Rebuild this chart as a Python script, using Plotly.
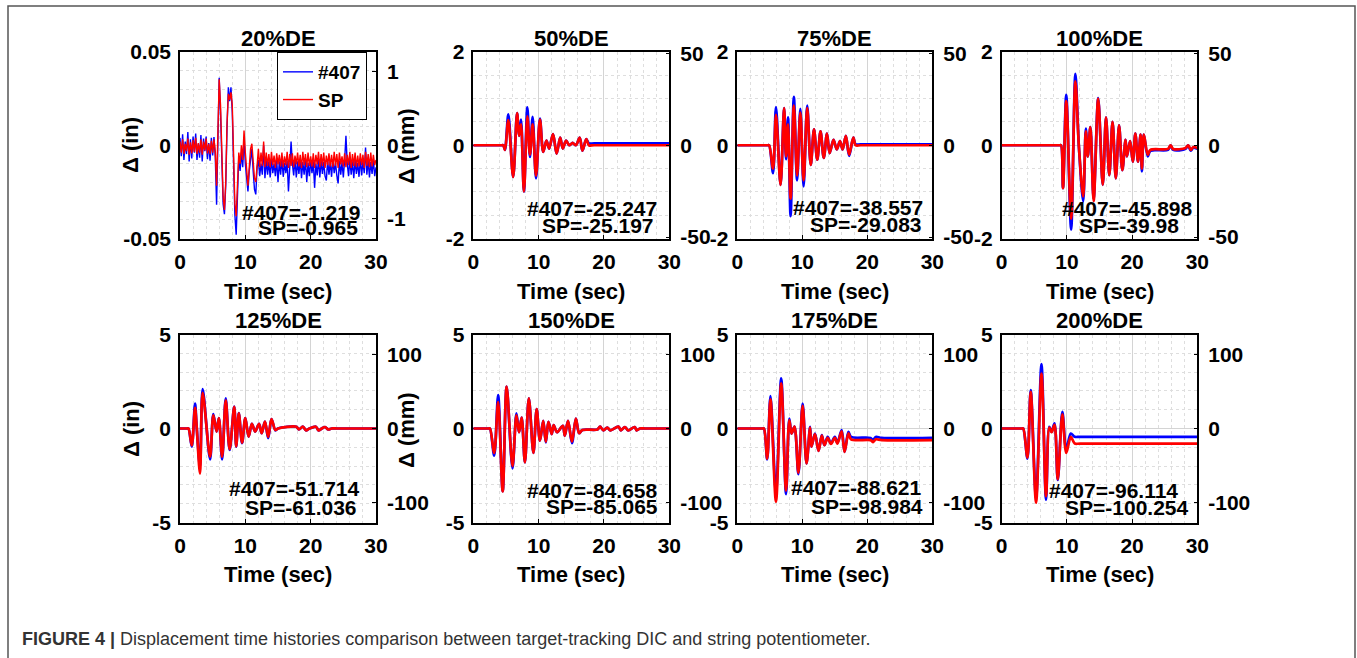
import numpy as np
import plotly.graph_objects as go

MM_PER_IN = 25.4

# ---------------------------------------------------------------- data (mm)
# 20%DE: recorded every 0.2 s
T20 = np.round(np.arange(0, 30.0001, 0.2), 1)
B20 = [0.10, -0.15, 0.15, -0.20, 0.05, -0.12, 0.18, -0.22, 0.08, -0.18,
       0.12, -0.10, 0.16, -0.20, 0.02, -0.17, 0.14, -0.22, 0.09, -0.08,
       0.12, -0.19, 0.03, -0.21, 0.10, -0.14, 0.11, -0.16,
       -0.81, 0.05, 0.92, 0.45, -0.30, -0.80, -0.94, -0.55, 0.25, 0.79,
       0.60, 0.79, 0.45, -0.35, -0.95, -1.219, -0.60, -0.15, -0.35, -0.10,
       -0.30, 0.10, -0.25, -0.50, -0.63, -0.35, -0.15, -0.05, -0.35, -0.60,
       -0.67, -0.30, -0.20, -0.42, -0.25, -0.40, 0.00, -0.45,
       -0.20, -0.40, -0.22, -0.44, -0.18, -0.38, -0.25, -0.42, -0.20, -0.50,
       -0.22, -0.40, -0.19, -0.43, -0.24, -0.38, -0.21, -0.63, -0.30, 0.05,
       -0.25, -0.41, -0.18, -0.44, -0.22, -0.39, -0.20, -0.45, -0.23, -0.40,
       -0.19, -0.50, -0.24, -0.42, -0.20, -0.38, -0.22, -0.58, -0.25, -0.41,
       -0.18, -0.44, -0.21, -0.39, -0.23, -0.42, -0.48, -0.20, -0.40, -0.22,
       -0.43, -0.19, -0.38, -0.24, -0.41, -0.52, -0.21, -0.40, -0.23, -0.44,
       -0.20, 0.13, -0.25, -0.42, -0.19, -0.40, -0.22, -0.45, -0.20, -0.39,
       -0.24, -0.43, -0.18, -0.41, -0.22, -0.38, -0.03, -0.40, -0.21, -0.44,
       -0.23, -0.39, -0.20, -0.42, -0.30]
S20 = [0.05, -0.10, 0.08, -0.12, 0.02, -0.08, 0.09, -0.13, 0.04, -0.11,
       0.07, -0.09, 0.10, -0.12, 0.03, -0.10, 0.08, -0.13, 0.05, -0.07,
       0.09, -0.11, 0.02, -0.12, 0.06, -0.10, 0.08, -0.09,
       -0.55, 0.10, 0.90, 0.55, -0.20, -0.70, -0.88, -0.50, 0.30, 0.70,
       0.62, 0.72, 0.55, -0.20, -0.80, -0.965, -0.50, -0.10, -0.25, 0.00,
       -0.20, 0.20, -0.10, -0.40, -0.55, -0.30, -0.05, 0.02, -0.25, -0.45,
       -0.50, -0.20, -0.05, -0.30, -0.10, -0.28, 0.05, -0.30,
       -0.10, -0.28, -0.12, -0.30, -0.09, -0.27, -0.14, -0.31, -0.11, -0.26,
       -0.13, -0.29, -0.10, -0.30, -0.15, -0.27, -0.09, -0.31, -0.12, -0.28,
       -0.11, -0.30, -0.14, -0.26, -0.10, -0.29, -0.13, -0.31, -0.09, -0.27,
       -0.12, -0.30, -0.10, -0.28, -0.15, -0.29, -0.11, -0.31, -0.13, -0.26,
       -0.09, -0.30, -0.12, -0.28, -0.10, -0.31, -0.14, -0.27, -0.11, -0.29,
       -0.13, -0.30, -0.09, -0.28, -0.12, -0.31, -0.10, -0.26, -0.15, -0.29,
       -0.11, -0.30, -0.13, -0.27, -0.09, -0.31, -0.12, -0.28, -0.10, -0.30,
       -0.14, -0.29, -0.11, -0.27, -0.13, -0.31, -0.09, -0.28, -0.12, -0.30,
       -0.10, -0.29, -0.13, -0.27, -0.20]

# 50%DE: turning points
T50 = [0, 4.4, 4.6, 4.85, 5.36, 6.1, 6.7, 7.0, 7.3, 7.75, 8.27, 8.67, 9.08, 9.6,
       10.2, 10.7, 11.2, 11.6, 12.2, 12.75, 13.3, 13.7, 14.2, 14.7, 15.2, 15.7,
       16.3, 16.7, 17.3, 17.7, 18.5, 30]
B50 = [0, 0, 0, -2.5, 16.8, -17.3, 17.5, 5.1, 14.0, -25.247, 20.6, -6.4, 15.5,
       -18.0, 14.5, -3.6, 2.5, -1.8, 6.1, -4.6, 4.1, -1.8, 2.5, 0, 1.3, 0, 4.1,
       -3.0, 3.3, 1.0, 1.0, 1.0]
S50 = [0, 0, 0, -2.5, 13.7, -17.3, 17.5, 5.1, 11.4, -25.197, 15.7, -5.1, 11.4,
       -16.5, 14.0, -3.6, 2.5, -1.8, 6.1, -4.6, 4.1, -1.8, 2.5, 0, 1.3, 0, 4.1,
       -3.0, 3.3, 0, 0, 0]

# 75%DE
T75 = [0, 4.7, 4.9, 5.5, 5.95, 6.65, 7.2, 7.5, 7.8, 8.2, 8.7, 9.2, 9.7, 10.2,
       10.75, 11.3, 11.8, 12.3, 12.8, 13.3, 13.8, 14.2, 14.8, 15.3, 15.8, 16.2,
       16.7, 17.2, 17.85, 18.2, 19.0, 30]
B75 = [0, 0, 0, -15.2, 20.8, -21.6, 20.3, -7.6, 15.2, -38.557, 26.4, -19.1, 19.8,
       -22.4, 21.6, -10.7, 8.6, -7.9, 7.6, -6.9, 6.4, -4.3, 3.0, -2.3, 2.3, -2.3,
       5.1, -5.8, 4.1, 0.5, 0.5, 0.5]
S75 = [0, 0, 0, -12.7, 16.5, -21.6, 20.3, -6.1, 11.4, -29.083, 21.6, -16.5, 17.8,
       -19.1, 20.3, -10.7, 8.6, -7.9, 7.6, -6.9, 6.4, -4.3, 3.0, -2.3, 2.3, -2.3,
       5.1, -5.1, 4.1, 0, 0, 0]

# 100%DE
T100 = [0, 8.9, 9.1, 9.4, 9.9, 10.65, 11.3, 11.85, 12.5, 12.9, 13.2, 13.6, 14.1,
        14.8, 15.5, 16.0, 16.5, 17.0, 17.5, 18.0, 18.5, 19.0, 19.2, 19.7, 20.1,
        20.5, 20.9, 21.3, 21.5, 21.8, 22.4, 22.8, 25.5, 25.9, 26.3, 28.2, 28.6,
        29.0, 29.4, 30]
B100 = [0, 0, 0, -23.4, 27.4, -45.898, 38.9, -1.3, -30.5, 9.1, -6.1, 9.9, -29.2,
        25.7, -21.6, 15.2, -16.3, 12.7, -18.0, 10.9, -13.5, 3.0, -6.1, 2.3, -8.9,
        6.4, -8.9, 5.8, -14.2, 5.8, -6.1, -3.0, -2.5, 0, -2.5, -2.0, 0, -3.0,
        -1.3, -2.0]
S100 = [0, 0, 0, -23.4, 24.1, -39.98, 34.8, -1.3, -27.9, 7.6, -6.1, 9.9, -30.5,
        25.4, -21.6, 15.2, -16.3, 12.7, -18.0, 10.9, -13.5, 3.0, -6.1, 2.3, -8.9,
        6.4, -8.9, 5.8, -12.7, 5.8, -5.1, -2.5, -2.0, 0, -2.0, -1.5, 0, -2.5,
        -1.0, -1.5]

# 125%DE
T125 = [0, 1.1, 1.3, 1.8, 2.3, 2.55, 3.06, 3.47, 4.6, 5.1, 5.6, 5.95, 6.45, 7.0,
        7.6, 8.3, 8.6, 9.0, 9.5, 10.0, 10.5, 11.0, 11.5, 12.1, 12.5, 13.0, 13.5,
        14.0, 14.6, 15.0, 17.8, 18.2, 18.8, 19.3, 19.8, 20.8, 21.2, 21.7, 22.2,
        22.7, 23.2, 24.0, 30]
B125 = [0, 0, 0, -24.4, 33.5, 2.5, -51.714, 53.3, -41.7, 19.6, -4.1, 14.0, -41.7,
        40.6, -29.0, 29.7, -24.4, 20.8, -19.8, 14.0, -10.9, 6.4, -4.1, 6.4, -6.4,
        9.4, -13.2, 12.7, -2.5, 0, 2.5, -1.3, 2.5, -2.5, 0, 2.5, -2.5, 0, 2.0,
        -1.3, 0, 0, 0]
S125 = [0, 0, 0, -22.9, 27.9, 2.5, -61.036, 48.3, -38.1, 17.8, -4.1, 14.0, -38.1,
        38.1, -27.9, 29.2, -24.1, 20.3, -19.1, 14.0, -10.9, 6.4, -4.1, 6.4, -6.4,
        9.4, -11.4, 12.7, -2.0, 0, 2.5, -1.3, 2.5, -2.5, 0, 2.5, -2.5, 0, 2.0,
        -1.3, 0, 0, 0]

# 150%DE
T150 = [0, 2.35, 2.55, 3.2, 3.8, 4.5, 5.1, 6.0, 6.6, 7.0, 7.4, 7.9, 8.5, 9.2, 9.7,
        10.2, 10.7, 11.1, 11.5, 12.0, 12.3, 12.8, 13.7, 14.0, 14.5, 15.1, 15.7,
        16.2, 16.7, 19.0, 19.4, 19.9, 20.5, 21.0, 22.2, 22.6, 23.2, 23.7, 24.7,
        25.0, 25.5, 26.3, 30]
B150 = [0, 0, 0, -36.8, 45.0, -84.658, 56.6, -53.8, 20.6, -5.1, 14.7, -45.7, 40.6,
        -33.0, 26.2, -16.5, 10.2, -18.8, 8.9, -7.6, 4.6, -5.1, 3.6, -9.7, 10.2,
        -19.8, 13.5, -6.4, -2.0, -1.3, 2.5, -2.5, 1.3, -2.5, 2.5, -2.5, 2.0, -2.5,
        2.0, -2.5, 0, 0, 0]
S150 = [0, 0, 0, -33.0, 35.6, -85.065, 56.6, -50.8, 17.8, -5.1, 14.7, -45.7, 40.6,
        -33.0, 26.2, -16.5, 10.2, -17.8, 8.9, -7.6, 4.6, -5.1, 3.6, -9.7, 10.2,
        -17.8, 13.5, -6.4, -2.0, -1.3, 2.5, -2.5, 1.3, -2.5, 2.5, -2.5, 2.0, -2.5,
        2.0, -2.5, 0, 0, 0]

# 175%DE
T175 = [0, 3.9, 4.1, 4.6, 5.1, 5.95, 6.75, 7.5, 8.0, 8.35, 8.8, 9.4, 10.05, 10.65,
        11.2, 11.4, 11.95, 12.5, 13.0, 13.4, 13.9, 14.4, 15.0, 15.4, 16.05, 16.5,
        17.1, 17.5, 20.5, 20.9, 21.3, 22.2, 30]
B175 = [0, 0, 0, -41.9, 43.7, -86.4, 67.6, -88.621, 13.5, -6.9, 2.5, -61.7, 33.8,
        -47.2, 2.3, -24.6, -6.9, -30.2, -8.9, -22.6, -11.2, -20.3, -11.2, -19.3,
        -2.3, -31.5, -4.6, -11.4, -12.7, -15.7, -11.4, -12.7, -12.7]
S175 = [0, 0, 0, -40.6, 39.4, -98.984, 61.0, -83.8, 11.4, -6.9, 2.5, -59.7, 30.5,
        -47.2, 1.3, -24.6, -7.6, -30.2, -9.7, -22.6, -12.7, -20.8, -12.7, -20.3,
        -3.8, -31.5, -6.4, -14.7, -15.7, -18.3, -14.7, -15.7, -15.7]

# 200%DE
T200 = [0, 3.1, 3.3, 3.95, 4.45, 5.27, 6.1, 6.8, 7.3, 7.65, 8.1, 8.6, 9.3, 9.9,
        10.6, 11.2, 12.0, 30]
B200 = [0, 0, 0, -40.6, 51.8, -94.0, 86.9, -96.114, 2.3, -4.6, 6.9, -69.6, 22.4,
        -28.2, -6.9, -11.2, -11.2, -11.2]
S200 = [0, 0, 0, -39.4, 49.5, -100.254, 74.2, -91.4, 1.3, -5.1, 5.1, -68.6, 19.1,
        -33.0, -11.4, -20.3, -20.3, -20.3]

TITLES = ["20%DE", "50%DE", "75%DE", "100%DE", "125%DE", "150%DE", "175%DE", "200%DE"]
TIMES = [T20, T50, T75, T100, T125, T150, T175, T200]
DIC = [B20, B50, B75, B100, B125, B150, B175, B200]
POT = [S20, S50, S75, S100, S125, S150, S175, S200]

# axis limits (in), minor grid step (in) and right-axis ticks (mm)
LIM_IN = [0.05, 2, 2, 2, 5, 5, 5, 5]
MINOR_IN = [0.01, 0.5, 0.5, 0.5, 1, 1, 1, 1]
LEFT_TICKS = [["-0.05", "0", "0.05"], ["-2", "0", "2"], ["-2", "0", "2"], ["-2", "0", "2"],
              ["-5", "0", "5"], ["-5", "0", "5"], ["-5", "0", "5"], ["-5", "0", "5"]]
RIGHT_TICKS = [[-1, 0, 1], [-50, 0, 50], [-50, 0, 50], [-50, 0, 50],
               [-100, 0, 100], [-100, 0, 100], [-100, 0, 100], [-100, 0, 100]]
X_TICKS = [0, 10, 20, 30]

# ---------------------------------------------------------------- layout geometry
W, H = 1357, 658
COL_X = [(180, 376), (473.3, 669.3), (737.3, 932.3), (1001.7, 1197.3)]
ROW_Y = [(52, 238.5), (334.5, 522.5)]
# right edge (px) and centre line (px) of the two peak-value labels in each panel
PEAK_LABEL_POS = [((362.7, 212), (360, 227.5)), ((659, 209), (656, 225.5)),
                  ((925, 207.5), (924, 225)), ((1195, 209), (1180.7, 225.5)),
                  ((361.7, 488), (359.3, 507)), ((660, 490.5), (660, 506.5)),
                  ((924, 487.5), (925, 506.5)), ((1180, 490.5), (1191, 507))]

FONT = "Liberation Sans, Arial, Helvetica, sans-serif"
BLUE, RED = "#0000ff", "#ff0000"


def px(x):
    return x / W


def py(y):
    return 1 - y / H


def fmt(v):
    return f"{v:g}"


fig = go.Figure()
layout = {}
annotations = []
tickfont = dict(family=FONT, size=21, color="black", weight="bold")
boldfont = dict(family=FONT, size=22, color="black", weight="bold")

for k in range(8):
    n = k + 1
    r, c = divmod(k, 4)
    x0, x1 = COL_X[c]
    y0, y1 = ROW_Y[r]
    xid = "x" if n == 1 else f"x{n}"
    ymm = "y" if n == 1 else f"y{2 * n - 1}"      # mm axis (right), carries the data
    yin = f"y{2 * n}"                              # inch axis (left)
    xkey = "xaxis" if n == 1 else f"xaxis{n}"
    ymmkey = "yaxis" if n == 1 else f"yaxis{2 * n - 1}"
    yinkey = f"yaxis{2 * n}"

    lim = LIM_IN[k]
    thin = (k == 0)
    width = 1.4 if thin else 2.7
    shape = "linear" if thin else "spline"

    # empty trace that registers the inch axis so that it is drawn
    fig.add_trace(go.Scatter(x=[0, 30], y=[-lim, lim], xaxis=xid, yaxis=yin,
                             mode="none", showlegend=False, hoverinfo="skip"))
    for vals, color, name in ((DIC[k], BLUE, "#407"), (POT[k], RED, "SP")):
        fig.add_trace(go.Scatter(
            x=TIMES[k], y=vals, xaxis=xid, yaxis=ymm, mode="lines", name=name,
            line=dict(color=color, width=width, shape=shape, smoothing=0.9),
            showlegend=(k == 0), hoverinfo="skip"))

    common = dict(ticks="inside", ticklen=4, tickcolor="black", tickfont=tickfont,
                  showline=True, linecolor="black", linewidth=1.5, zeroline=False,
                  automargin=False, fixedrange=True)
    layout[xkey] = dict(
        domain=[px(x0), px(x1)], anchor=ymm, range=[0, 30],
        tickmode="array", tickvals=X_TICKS, ticktext=[str(v) for v in X_TICKS],
        mirror=True, showgrid=True, gridcolor="#d4d4d4", gridwidth=1,
        minor=dict(dtick=2, tick0=0, showgrid=True, gridcolor="#dedede",
                   griddash="dot", gridwidth=1),
        ticklabelstandoff=4, **common)
    layout[ymmkey] = dict(
        domain=[py(y1), py(y0)], anchor=xid, side="right",
        range=[-lim * MM_PER_IN, lim * MM_PER_IN],
        tickmode="array", tickvals=RIGHT_TICKS[k],
        ticktext=[str(v) for v in RIGHT_TICKS[k]],
        showgrid=False, ticklabelstandoff=5, **common)
    layout[yinkey] = dict(
        overlaying=ymm, anchor=xid, side="left", range=[-lim, lim],
        tickmode="array", tickvals=[-lim, 0, lim], ticktext=LEFT_TICKS[k],
        showgrid=True, gridcolor="#d4d4d4", gridwidth=1,
        minor=dict(dtick=MINOR_IN[k], tick0=0, showgrid=True, gridcolor="#dedede",
                   griddash="dot", gridwidth=1),
        ticklabelstandoff=3, layer="below traces", **common)

    # panel title and x-axis title
    xc = (x0 + x1) / 2
    annotations.append(dict(text=TITLES[k], x=px(xc), y=py(39 if r == 0 else 320),
                            xref="paper", yref="paper", showarrow=False,
                            xanchor="center", yanchor="middle", font=boldfont))
    annotations.append(dict(text="Time (sec)", x=px(xc), y=py(291 if r == 0 else 574),
                            xref="paper", yref="paper", showarrow=False,
                            xanchor="center", yanchor="middle", font=boldfont))

    # peak displacement labels, read from the series themselves
    (bx, by), (sx, sy) = PEAK_LABEL_POS[k]
    for txt, (ax, ay) in ((f"#407={fmt(min(DIC[k]))}", (bx, by)),
                          (f"SP={fmt(min(POT[k]))}", (sx, sy))):
        annotations.append(dict(text=txt, x=px(ax), y=py(ay), xref="paper", yref="paper",
                                showarrow=False, xanchor="right", yanchor="middle",
                                font=tickfont))

# y-axis titles on the first column
for yc in (145, 429):
    annotations.append(dict(text="Δ (in)", x=px(131), y=py(yc), xref="paper", yref="paper",
                            showarrow=False, textangle=-90, xanchor="center",
                            yanchor="middle", font=boldfont))
    annotations.append(dict(text="Δ (mm)", x=px(406), y=py(yc + 1), xref="paper",
                            yref="paper", showarrow=False, textangle=-90,
                            xanchor="center", yanchor="middle", font=boldfont))

# figure caption
annotations.append(dict(
    text="<b>FIGURE 4 |</b> Displacement time histories comparison between "
         "target-tracking DIC and string potentiometer.",
    x=px(20), y=py(639), xref="paper", yref="paper", showarrow=False,
    xanchor="left", yanchor="middle",
    font=dict(family=FONT, size=18, color="#333333", weight="normal")))

fig.update_layout(
    template="none",
    width=W, height=H, autosize=False,
    margin=dict(l=0, r=0, t=0, b=0, pad=0, autoexpand=False),
    paper_bgcolor="white", plot_bgcolor="white",
    font=dict(family=FONT, size=21, color="black", weight="bold"),
    legend=dict(x=px(367), y=py(86), xanchor="right", yanchor="middle",
                bgcolor="white", bordercolor="black", borderwidth=1,
                font=dict(family=FONT, size=19, color="black", weight="bold"),
                tracegroupgap=0, itemwidth=30),
    annotations=annotations,
    shapes=[dict(type="rect", xref="paper", yref="paper",
                 x0=px(8), x1=px(1355), y0=-0.05, y1=py(6),
                 line=dict(color="#555555", width=1.5), fillcolor="rgba(0,0,0,0)")],
    **layout)

fig.write_html("out.html",
               post_script="document.body.style.margin='0';"
                           "document.body.style.overflow='hidden';")
